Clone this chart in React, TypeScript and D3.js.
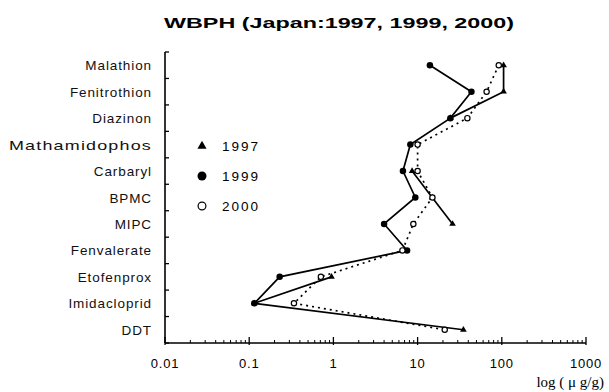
import React from 'react';
import * as d3 from 'd3';

const categories = ['Malathion', 'Fenitrothion', 'Diazinon', 'Mathamidophos', 'Carbaryl', 'BPMC', 'MIPC', 'Fenvalerate', 'Etofenprox', 'Imidacloprid', 'DDT'];
const values1997 = [105, 105, 24.5, null, 8.6, 14.9, 26, null, 0.95, 0.115, 35];
const values1999 = [14, 43.6, 24.5, 8.2, 6.7, 9.4, 4.0, 7.5, 0.23, 0.115, null];
const values2000 = [92, 66, 39, 10, 10, 15, 8.9, 6.6, 0.71, 0.34, 21];
const tickValues = [0.01, 0.1, 1, 10, 100, 1000];
const tickLabels = ['0.01', '0.1', '1', '10', '100', '1000'];
const seriesNames = ['1997', '1999', '2000'];

const W = 609, H = 392;
const left = 165, right = 586, top = 52, bottom = 343;
const sans = 'Arial, "Liberation Sans", sans-serif';

const App = () => {
  const x = d3.scaleLog().domain([0.01, 1000]).range([left, right]);
  const y = d3.scaleBand().domain(categories).range([top, bottom]).paddingInner(0);
  const cy = (c: string) => (y(c) as number) + y.bandwidth() / 2;

  const toPts = (vals: (number | null)[]) => categories.map((c, i) => ({ c, v: vals[i] }));
  const line = d3.line<{ c: string; v: number | null }>()
    .defined(d => d.v != null)
    .x(d => x(d.v as number))
    .y(d => cy(d.c));

  const minor: number[] = [];
  for (let e = -2; e < 3; e++) for (let k = 2; k <= 9; k++) minor.push(k * Math.pow(10, e));

  const tri = d3.symbol().type(d3.symbolTriangle);

  const series = [
    { name: seriesNames[0], vals: values1997, dash: undefined, mark: 'tri' },
    { name: seriesNames[1], vals: values1999, dash: undefined, mark: 'dot' },
    { name: seriesNames[2], vals: values2000, dash: '2,4', mark: 'open' },
  ];

  // s ~ marker width in px
  const marker = (m: string, px: number, py: number, s: number, key?: string) => {
    if (m === 'tri') return <path key={key} d={tri.size(s * s * 0.45)() as string} transform={`translate(${px},${py})`} fill="#000" />;
    if (m === 'dot') return <circle key={key} cx={px} cy={py} r={s / 2} fill="#000" />;
    return <circle key={key} cx={px} cy={py} r={s / 2 - 0.6} fill="#fff" stroke="#000" strokeWidth={1.2} />;
  };

  return (
    <svg width={W} height={H} style={{ position: 'absolute', left: 0, top: 0, background: '#fff' }}>
      <text x={339} y={28} textAnchor="middle" fontFamily={sans} fontWeight="bold" fontSize={15.5}
        textLength={350} lengthAdjust="spacingAndGlyphs">WBPH (Japan:1997, 1999, 2000)</text>

      {/* y axis */}
      <line x1={left} x2={left} y1={top} y2={bottom} stroke="#000" strokeWidth={1.6} />
      {d3.range(categories.length + 1).map(i => {
        const yy = top + i * y.bandwidth();
        return <line key={i} x1={left} x2={left + 4} y1={yy} y2={yy} stroke="#000" strokeWidth={1.3} />;
      })}
      {categories.map(c => (
        <text key={c} x={152} y={cy(c) + 5} textAnchor="end" fontFamily={sans} fontSize={13.5}
          letterSpacing={0.9} fill="#111"
          {...(c === 'Mathamidophos' ? { textLength: 143, lengthAdjust: 'spacingAndGlyphs' } : {})}>{c}</text>
      ))}

      {/* x axis */}
      <line x1={left} x2={right} y1={bottom} y2={bottom} stroke="#000" strokeWidth={1.6} />
      {minor.map((v, i) => (
        <line key={i} x1={x(v)} x2={x(v)} y1={bottom} y2={bottom - 3} stroke="#000" strokeWidth={1} />
      ))}
      {tickValues.map((v, i) => (
        <g key={v}>
          <line x1={x(v)} x2={x(v)} y1={bottom + 2} y2={bottom - 6} stroke="#000" strokeWidth={1.3} />
          <text x={x(v)} y={368} textAnchor="middle" fontFamily={sans} fontSize={13} letterSpacing={0.8}>{tickLabels[i]}</text>
        </g>
      ))}
      <text x={604} y={387} textAnchor="end" fontFamily='"Liberation Serif", "DejaVu Serif", serif' fontSize={15}>log ( μ g/g)</text>

      {/* series */}
      {series.map(s => (
        <path key={s.name} d={line(toPts(s.vals)) as string} fill="none" stroke="#000"
          strokeWidth={1.7} strokeDasharray={s.dash} />
      ))}
      {series.map(s => toPts(s.vals).filter(d => d.v != null).map(d =>
        marker(s.mark, x(d.v as number), cy(d.c), 6.5, `${s.name}-${d.c}`)
      ))}

      {/* legend */}
      {series.map((s, i) => (
        <g key={s.name}>
          {marker(s.mark, 202, 146 + i * 30, 9)}
          <text x={222} y={151 + i * 30} fontFamily={sans} fontSize={13.5} letterSpacing={2}>{s.name}</text>
        </g>
      ))}
    </svg>
  );
};

export default App;
